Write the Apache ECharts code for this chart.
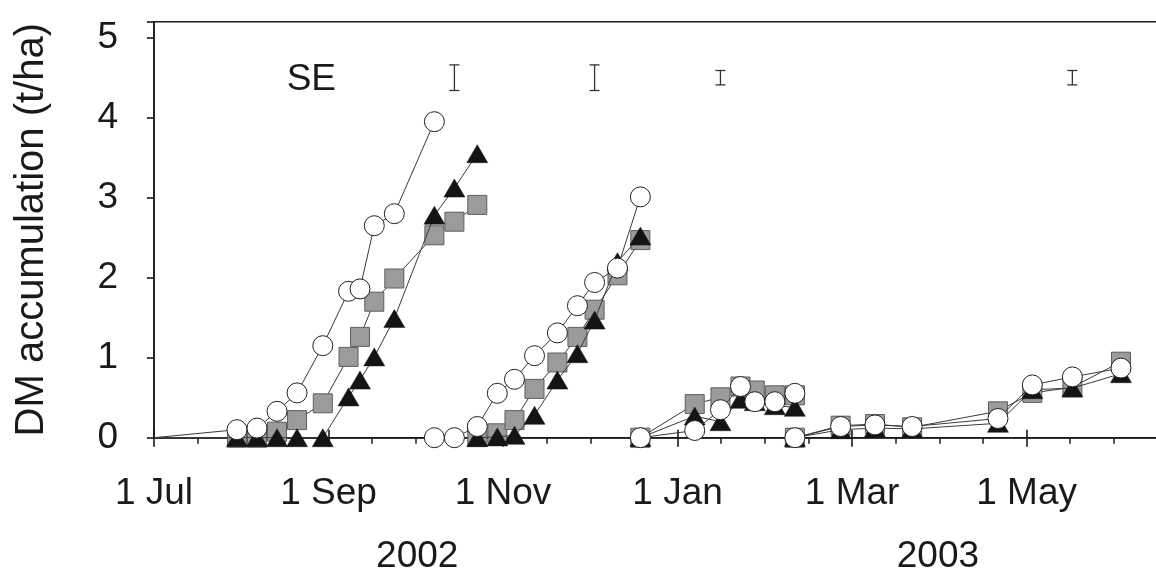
<!DOCTYPE html>
<html>
<head>
<meta charset="utf-8">
<script src="https://cdn.jsdelivr.net/npm/echarts@6/dist/echarts.min.js"></script>
<style>
  html, body { margin: 0; padding: 0; overflow: hidden; background: #fff; }
  #chart { width: 1220px; height: 576px; }
</style>
</head>
<body>
<div id="chart"></div>
<script>
// Time axis: days counted from 1 July 2002, a labelled tick every 61 days.
const tickLabels = ['1 Jul', '1 Sep', '1 Nov', '1 Jan', '1 Mar', '1 May'];
const tickStep = 61;
const yearLabels = ['2002', '2003'];
const yearDays = [92, 274];

// Growth period 1 (Jul - Oct 2002)
const daysP1 = [0, 29, 36, 43, 50, 59, 68, 72, 77, 84, 98, 105, 113];
const circleP1 = [0, 0.10, 0.12, 0.33, 0.56, 1.15, 1.83, 1.86, 2.65, 2.80, 3.95, null, null];
const squareP1 = [0, 0, 0, 0.075, 0.22, 0.43, 1.01, 1.26, 1.70, 1.99, 2.53, 2.70, 2.91];
const triangleP1 = [0, 0, 0, 0, 0, 0, 0.51, 0.72, 1.01, 1.49, 2.78, 3.12, 3.55];

// Growth period 2 (Oct - Dec 2002)
const daysP2 = [98, 105, 113, 120, 126, 133, 141, 148, 154, 162, 170];
const circleP2 = [0, 0, 0.14, 0.555, 0.73, 1.025, 1.31, 1.65, 1.94, 2.12, 3.01];
const squareP2 = [null, null, 0.01, 0.055, 0.22, 0.61, 0.94, 1.26, 1.60, 2.03, 2.47];
const triangleP2 = [null, null, 0, 0.01, 0.03, 0.28, 0.72, 1.05, 1.47, 2.20, 2.52];

// Growth period 3 (Dec 2002 - Feb 2003)
const daysP3 = [170, 189, 198, 205, 210, 217, 224];
const circleP3 = [0, 0.09, 0.35, 0.64, 0.45, 0.45, 0.555];
const squareP3 = [0, 0.42, 0.505, 0.64, 0.59, 0.53, 0.53];
const triangleP3 = [0, 0.27, 0.20, 0.48, 0.45, 0.40, 0.38];

// Growth period 4 (Feb - Jun 2003)
const daysP4 = [224, 240, 252, 265, 295, 307, 321, 338];
const circleP4 = [0, 0.14, 0.16, 0.14, 0.24, 0.66, 0.76, 0.87];
const squareP4 = [0, 0.15, 0.17, 0.13, 0.33, 0.56, 0.63, 0.95];
const triangleP4 = [0, 0.10, 0.12, 0.11, 0.18, 0.60, 0.62, 0.80];

// Standard error bars drawn near the top of the plot
const seDays = [105, 154, 198, 321];
const seHalf = [0.16, 0.16, 0.09, 0.09];
const seLevel = 4.5;
const seTextPos = [55, 4.47];

const FONT = "'Liberation Sans', Arial, Helvetica, sans-serif";
const INK = '#1a1a1a';

// Join the periods into one line per treatment, broken between periods.
function buildLine(periods) {
  const out = [];
  periods.forEach(([days, vals], p) => {
    if (p > 0) out.push([days[0], '-']);
    days.forEach((d, i) => {
      const v = vals[i];
      if (v === null) return;
      if (d === 0) out.push({ value: [d, v], symbol: 'none' });
      else out.push([d, v]);
    });
  });
  return out;
}

const circleData = buildLine([[daysP1, circleP1], [daysP2, circleP2], [daysP3, circleP3], [daysP4, circleP4]]);
const squareData = buildLine([[daysP1, squareP1], [daysP2, squareP2], [daysP3, squareP3], [daysP4, squareP4]]);
const triangleData = buildLine([[daysP1, triangleP1], [daysP2, triangleP2], [daysP3, triangleP3], [daysP4, triangleP4]]);
const seData = seDays.map((d, i) => [d, seLevel, seHalf[i]]);

const X_MAX = tickStep * 6;
const GRID = { left: 154, top: 21.7, width: 1047.1, height: 416 };

const chart = echarts.init(document.getElementById('chart'), null, { renderer: 'canvas' });

const lineBase = {
  type: 'line',
  showSymbol: true,
  connectNulls: false,
  lineStyle: { color: '#3a3a3a', width: 1 },
  emphasis: { disabled: true },
  animation: false
};

chart.setOption({
  backgroundColor: '#fff',
  animation: false,
  grid: Object.assign({ show: true, borderColor: INK, borderWidth: 1.5, backgroundColor: 'transparent' }, GRID),
  xAxis: [
    {
      type: 'value', min: 0, max: X_MAX, interval: tickStep,
      position: 'bottom',
      axisLine: { show: true, lineStyle: { color: INK, width: 1.6 } },
      axisTick: { show: true, inside: false, length: 9, lineStyle: { color: INK, width: 1.6 } },
      minorTick: { show: true, splitNumber: 4, length: 6, lineStyle: { color: INK, width: 1.5 } },
      splitLine: { show: false },
      axisLabel: {
        margin: 38, fontSize: 37, color: INK, fontFamily: FONT,
        formatter: v => (v % tickStep === 0 && tickLabels[v / tickStep]) ? tickLabels[v / tickStep] : ''
      }
    },
    {
      // upper half of the labelled ticks, which cross the time axis
      type: 'value', min: 0, max: X_MAX, interval: tickStep,
      position: 'top', offset: -GRID.height,
      axisLine: { show: false },
      axisTick: { show: true, inside: false, length: 8, lineStyle: { color: INK, width: 1.6 } },
      axisLabel: { show: false },
      splitLine: { show: false }
    }
  ],
  yAxis: {
    type: 'value', min: 0, max: 5.2, interval: 1,
    axisLine: { show: true, lineStyle: { color: INK, width: 1.6 } },
    axisTick: { show: true, inside: false, length: 7, lineStyle: { color: INK, width: 1.6 } },
    splitLine: { show: false },
    axisLabel: {
      margin: 36, fontSize: 37, color: INK, fontFamily: FONT,
      formatter: v => (Number.isInteger(v) ? String(v) : '')
    },
    name: 'DM accumulation (t/ha)',
    nameLocation: 'middle',
    nameRotate: 90,
    nameGap: 102,
    nameTextStyle: { fontSize: 40, color: INK, fontFamily: FONT }
  },
  series: [
    Object.assign({}, lineBase, {
      name: 'square', data: squareData, z: 2,
      symbol: 'rect', symbolSize: 19,
      itemStyle: { color: '#9b9b9b', borderColor: '#5e5e5e', borderWidth: 1 }
    }),
    Object.assign({}, lineBase, {
      name: 'triangle', data: triangleData, z: 3,
      symbol: 'triangle', symbolSize: [21, 18],
      itemStyle: { color: '#141414', borderColor: '#141414', borderWidth: 0.5 }
    }),
    Object.assign({}, lineBase, {
      name: 'circle', data: circleData, z: 4,
      symbol: 'circle', symbolSize: 20,
      itemStyle: { color: '#ffffff', borderColor: '#222', borderWidth: 1 }
    }),
    {
      type: 'custom', name: 'SE', data: seData, z: 5,
      animation: false, silent: true,
      renderItem: (params, api) => {
        const d = api.value(0), c = api.value(1), h = api.value(2);
        const top = api.coord([d, c + h]);
        const bot = api.coord([d, c - h]);
        const w = 5;
        const st = { stroke: '#333', lineWidth: 1.3 };
        return {
          type: 'group',
          children: [
            { type: 'line', shape: { x1: top[0], y1: top[1], x2: bot[0], y2: bot[1] }, style: st },
            { type: 'line', shape: { x1: top[0] - w, y1: top[1], x2: top[0] + w, y2: top[1] }, style: st },
            { type: 'line', shape: { x1: bot[0] - w, y1: bot[1], x2: bot[0] + w, y2: bot[1] }, style: st }
          ]
        };
      }
    }
  ]
});

// Text placed at data positions: the SE key and the year under each season.
const sePx = chart.convertToPixel({ xAxisIndex: 0, yAxisIndex: 0 }, seTextPos);
const texts = [{
  type: 'text', x: sePx[0], y: sePx[1],
  style: { text: 'SE', fontSize: 37, fontFamily: FONT, fill: INK, align: 'center', verticalAlign: 'middle' }
}];
yearLabels.forEach((label, i) => {
  const p = chart.convertToPixel({ xAxisIndex: 0, yAxisIndex: 0 }, [yearDays[i], 0]);
  texts.push({
    type: 'text', x: p[0], y: p[1] + 119,
    style: { text: label, fontSize: 37, fontFamily: FONT, fill: INK, align: 'center', verticalAlign: 'middle' }
  });
});
chart.setOption({ graphic: texts });
</script>
</body>
</html>
